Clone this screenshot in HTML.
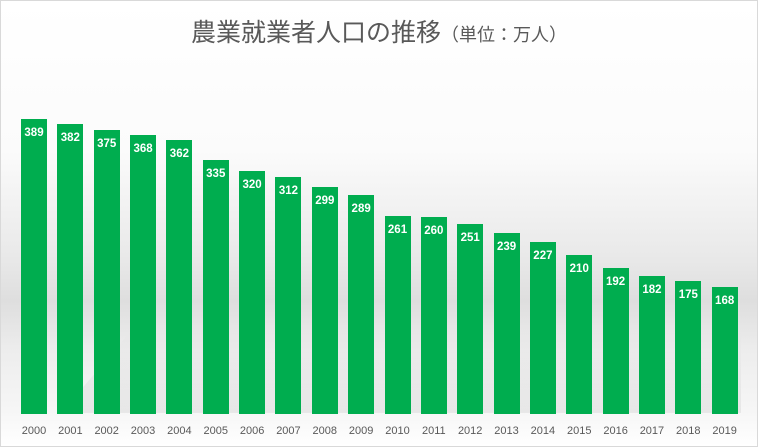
<!DOCTYPE html>
<html><head><meta charset="utf-8"><style>
body{margin:0}
#c{position:relative;width:756px;height:445px;border:1px solid #d9d9d9;overflow:hidden;
background:linear-gradient(to bottom,#fff 0px,#fbfbfb 150px,#e8e8e8 260px,#dedede 300px,#ededed 350px,#f6f6f6 410px,#fff 445px);
font-family:"Liberation Sans","Noto Sans CJK JP",sans-serif}
.t{position:absolute;top:12px;left:0;width:756px;text-align:center;color:#595959;font-size:25px;white-space:nowrap}
.t span{font-size:18px}
.b{position:absolute;background:#00ad4f;width:26px;bottom:32px;color:#fff;font-weight:bold;font-size:11.5px;text-align:center;box-sizing:border-box;padding-top:8px;z-index:2}
.x{position:absolute;width:40px;margin-left:-7px;text-align:center;color:#595959;font-size:11px;top:424px}
</style></head><body><div id="c">
<svg width="756" height="445" style="position:absolute;left:0;top:0;z-index:1">
<defs><linearGradient id="g" x1="0" y1="1" x2="0" y2="0"><stop offset="0" stop-color="#aaa" stop-opacity=".2"/><stop offset="1" stop-color="#aaa" stop-opacity="0"/></linearGradient></defs>
<polygon points="60,412 740,412 740,330 130,330" fill="url(#g)"/>
</svg>
<div class="t">農業就業者人口の推移<span>（単位：万人）</span></div>
<div class="b" style="left:20px;height:295px">389</div>
<div class="b" style="left:56.35px;height:289.7px">382</div>
<div class="b" style="left:92.7px;height:284.4px">375</div>
<div class="b" style="left:129.05px;height:279.1px">368</div>
<div class="b" style="left:165.4px;height:274.5px">362</div>
<div class="b" style="left:201.75px;height:254.1px">335</div>
<div class="b" style="left:238.1px;height:242.7px">320</div>
<div class="b" style="left:274.45px;height:236.6px">312</div>
<div class="b" style="left:310.8px;height:226.8px">299</div>
<div class="b" style="left:347.15px;height:219.2px">289</div>
<div class="b" style="left:383.5px;height:197.9px">261</div>
<div class="b" style="left:419.85px;height:197.2px">260</div>
<div class="b" style="left:456.2px;height:190.4px">251</div>
<div class="b" style="left:492.55px;height:181.3px">239</div>
<div class="b" style="left:528.9px;height:172.2px">227</div>
<div class="b" style="left:565.25px;height:159.3px">210</div>
<div class="b" style="left:601.6px;height:145.6px">192</div>
<div class="b" style="left:637.95px;height:138px">182</div>
<div class="b" style="left:674.3px;height:132.7px">175</div>
<div class="b" style="left:710.65px;height:127.4px">168</div>
<div class="x" style="left:20px">2000</div>
<div class="x" style="left:56.35px">2001</div>
<div class="x" style="left:92.7px">2002</div>
<div class="x" style="left:129.05px">2003</div>
<div class="x" style="left:165.4px">2004</div>
<div class="x" style="left:201.75px">2005</div>
<div class="x" style="left:238.1px">2006</div>
<div class="x" style="left:274.45px">2007</div>
<div class="x" style="left:310.8px">2008</div>
<div class="x" style="left:347.15px">2009</div>
<div class="x" style="left:383.5px">2010</div>
<div class="x" style="left:419.85px">2011</div>
<div class="x" style="left:456.2px">2012</div>
<div class="x" style="left:492.55px">2013</div>
<div class="x" style="left:528.9px">2014</div>
<div class="x" style="left:565.25px">2015</div>
<div class="x" style="left:601.6px">2016</div>
<div class="x" style="left:637.95px">2017</div>
<div class="x" style="left:674.3px">2018</div>
<div class="x" style="left:710.65px">2019</div>
</div></body></html>
